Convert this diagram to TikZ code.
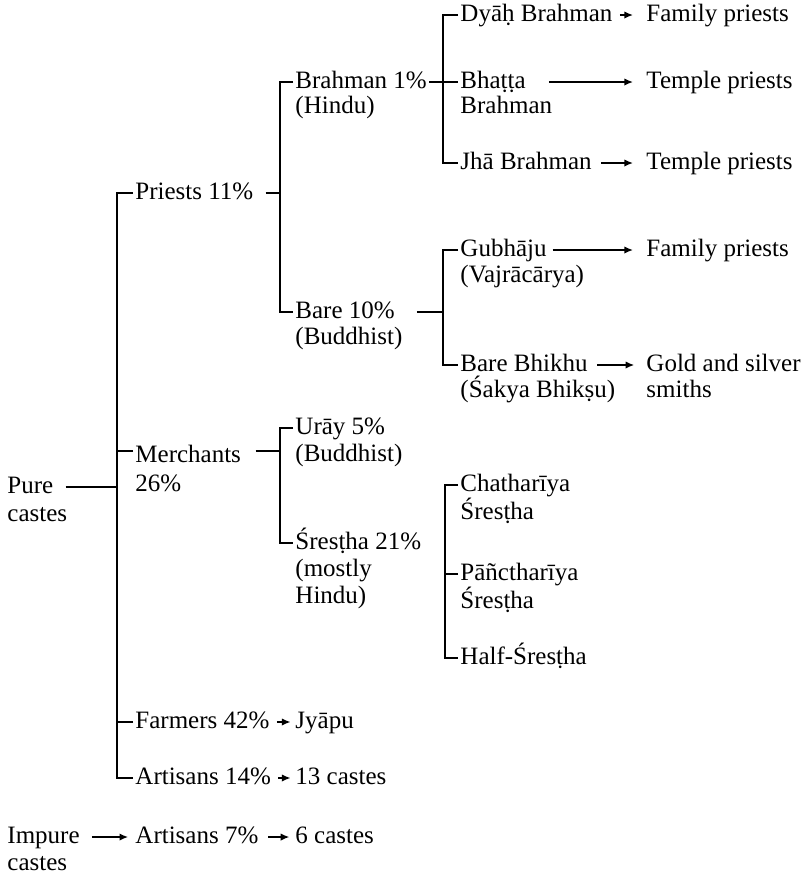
\documentclass[tikz,border=0pt]{standalone}
\usepackage{fontspec}
\setmainfont{Liberation Serif}
\usetikzlibrary{arrows.meta}
\begin{document}
\begin{tikzpicture}[x=0.408pt,y=-0.408pt,
  lbl/.style={anchor=west,inner xsep=0.8pt,inner ysep=0pt,text height=7pt,text depth=2pt,font=\fontsize{10.2}{11}\selectfont},
  br/.style={line width=0.8pt},
  arr/.style={line width=0.6pt,-{Latex[length=3.5pt,width=3pt]}}]
\useasboundingbox (0,0) rectangle (804,882);
% bracket x positions
\coordinate (B1) at (117,0);
\coordinate (B2) at (280,0);
\coordinate (B3) at (443,0);
\coordinate (B4) at (443,0);
\coordinate (B5) at (280,0);
\coordinate (B6) at (445,0);
% level 0
\node[lbl] (pure) at (5,487) {Pure};
\node[lbl] (pure2) at (5,515) {castes};
\node[lbl] (impure) at (5,837) {Impure};
\node[lbl] (impure2) at (5,864) {castes};
% level 1
\node[lbl] (priests) at (133,193) {Priests 11\%};
\node[lbl] (merchants) at (133,456) {Merchants};
\node[lbl] (merchants2) at (133,485) {26\%};
\node[lbl] (farmers) at (133,722) {Farmers 42\%};
\node[lbl] (art14) at (133,778) {Artisans 14\%};
\node[lbl] (art7) at (133,837) {Artisans 7\%};
% level 2
\node[lbl] (brahman) at (293,82) {Brahman 1\%};
\node[lbl] (hindu) at (293,107) {(Hindu)};
\node[lbl] (bare) at (293,312) {Bare 10\%};
\node[lbl] (buddh) at (293,338) {(Buddhist)};
\node[lbl] (uray) at (293,428) {Urāy 5\%};
\node[lbl] (buddh2) at (293,455) {(Buddhist)};
\node[lbl] (sres21) at (293,543) {Śresṭha 21\%};
\node[lbl] (mostly) at (293,570) {(mostly};
\node[lbl] (hindu2) at (293,597) {Hindu)};
\node[lbl] (jyapu) at (293,722) {Jyāpu};
\node[lbl] (castes13) at (293,778) {13 castes};
\node[lbl] (castes6) at (293,837) {6 castes};
% level 3
\node[lbl] (dyah) at (458,15) {Dyāḥ Brahman};
\node[lbl] (bhatta) at (458,82) {Bhaṭṭa};
\node[lbl] (bhatta2) at (458,107) {Brahman};
\node[lbl] (jha) at (458,163) {Jhā Brahman};
\node[lbl] (gub) at (458,250) {Gubhāju};
\node[lbl] (vajra) at (458,276) {(Vajrācārya)};
\node[lbl] (bhikhu) at (458,365) {Bare Bhikhu};
\node[lbl] (sakya) at (458,391) {(Śakya Bhikṣu)};
\node[lbl] (chath) at (458,485) {Chatharīya};
\node[lbl] (sres1) at (458,513) {Śresṭha};
\node[lbl] (panc) at (458,574) {Pāñctharīya};
\node[lbl] (sres2) at (458,602) {Śresṭha};
\node[lbl] (half) at (458,658) {Half-Śresṭha};
% level 4
\node[lbl] (fam1) at (644,15) {Family priests};
\node[lbl] (temp1) at (644,82) {Temple priests};
\node[lbl] (temp2) at (644,163) {Temple priests};
\node[lbl] (fam2) at (644,250) {Family priests};
\node[lbl] (gold) at (644,365) {Gold and silver};
\node[lbl] (smiths) at (644,391) {smiths};
% brackets
\draw[br,shorten <=4pt] (pure.east) -- (pure.east -| B1);
\draw[br] (priests.west) -- (priests.west -| B1) |- (art14.west);
\draw[br] ([yshift=2pt]merchants.west) -- ([yshift=2pt]merchants.west -| B1);
\draw[br] (farmers.west) -- (farmers.west -| B1);
\draw[br,shorten <=4pt] (priests.east) -- (priests.east -| B2);
\draw[br] (brahman.west) -- (brahman.west -| B2) |- (bare.west);
\draw[br] (brahman.east) -- (bhatta.west);
\draw[br] (dyah.west) -- (dyah.west -| B3) |- (jha.west);
\draw[br,shorten <=8pt] (bare.east) -- (bare.east -| B4);
\draw[br] (gub.west) -- (gub.west -| B4) |- (bhikhu.west);
\draw[br,shorten <=5pt] ([yshift=2pt]merchants.east) -- ([yshift=2pt]merchants.east -| B5);
\draw[br] (uray.west) -- (uray.west -| B5) |- (sres21.west);
\draw[br] (chath.west) -- (chath.west -| B6) |- (half.west);
\draw[br] (panc.west) -- (panc.west -| B6);
% arrows
\draw[arr,shorten <=2pt,shorten >=4.5pt] (dyah) -- (fam1);
\draw[arr,shorten <=8.5pt,shorten >=4.5pt] (bhatta) -- (temp1);
\draw[arr,shorten <=3pt,shorten >=4.5pt] (jha) -- (temp2);
\draw[arr,shorten <=1.5pt,shorten >=4.5pt] (gub) -- (fam2);
\draw[arr,shorten <=3pt,shorten >=4pt] (bhikhu) -- (gold);
\draw[arr,shorten <=2pt,shorten >=1pt] (farmers) -- (jyapu);
\draw[arr,shorten <=2pt,shorten >=1pt] (art14) -- (castes13);
\draw[arr,shorten <=4pt,shorten >=2pt] (impure) -- (art7);
\draw[arr,shorten <=3pt,shorten >=1.5pt] (art7) -- (castes6);
\end{tikzpicture}
\end{document}
